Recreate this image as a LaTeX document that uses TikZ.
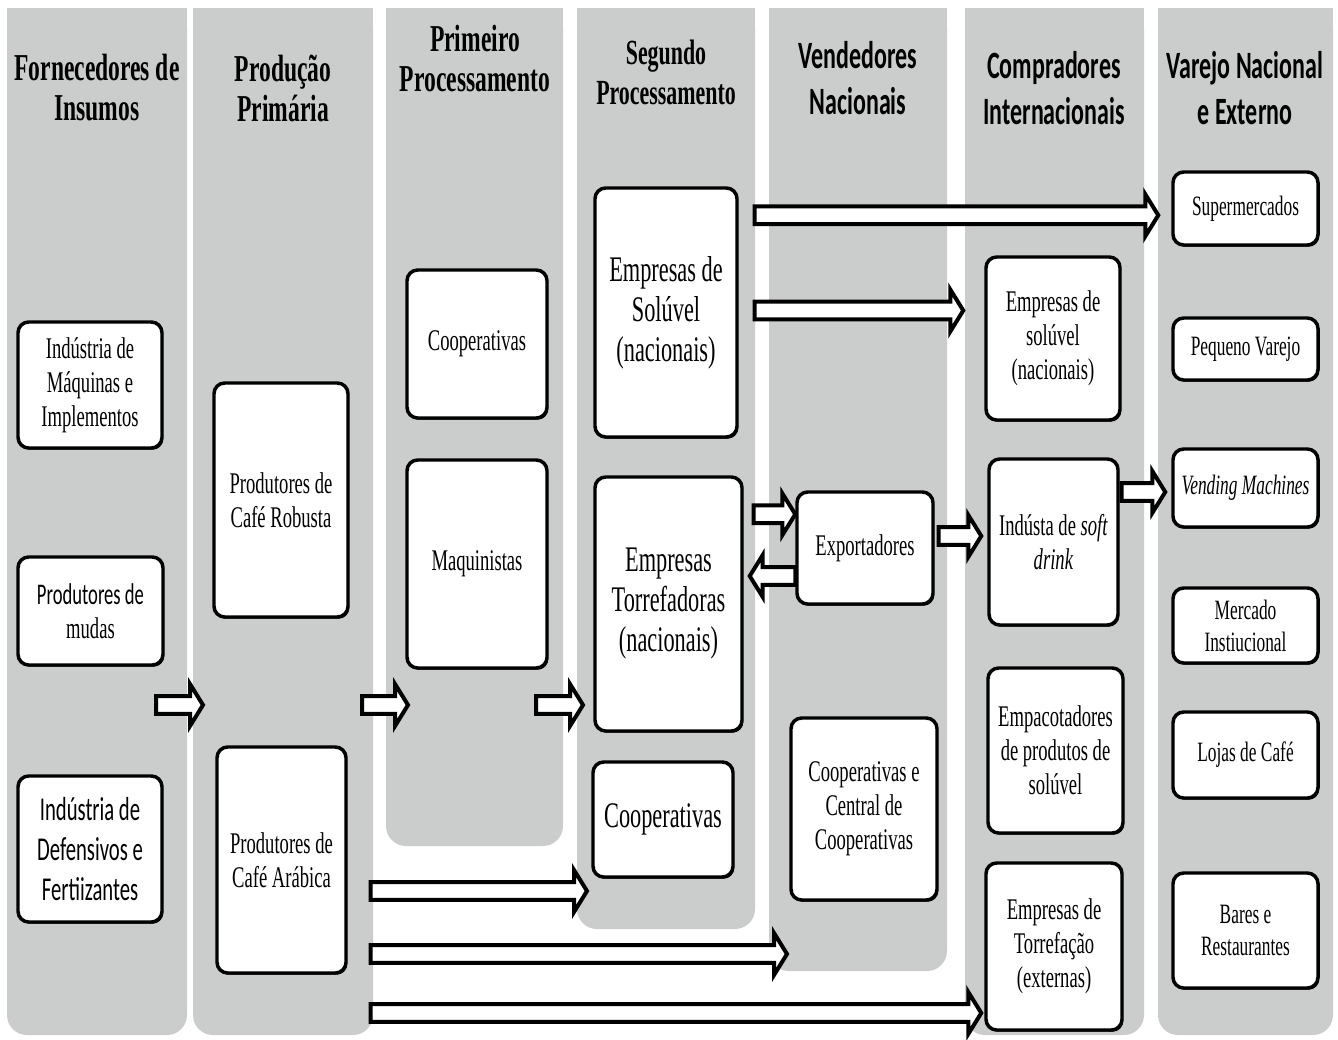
\documentclass[tikz,border=0pt]{standalone}
\usepackage{fontspec}
\setmainfont{Liberation Serif}
\newfontfamily\cserif[FakeStretch=0.62]{Liberation Serif}
\newfontfamily\csans[FakeStretch=0.62]{Carlito}
\usetikzlibrary{calc,shadows}
\definecolor{colgray}{RGB}{203,204,204}
\def\ash{6.6pt}
\def\ahh{15.75pt}
\def\ahl{9.75pt}
\tikzset{
  colbg/.style={fill=colgray},
  bx/.style={draw=black, line width=2.6pt, rounded corners=8pt, fill=white,
    align=center, inner sep=0pt,
    font=\cserif\fontsize{22.5}{25.5}\selectfont,
    drop shadow={shadow xshift=0.9pt, shadow yshift=-1.3pt, fill=black, opacity=1}},
  bigtxt/.style={font=\cserif\fontsize{27}{30}\selectfont},
  smalltxt/.style={font=\cserif\fontsize{21}{24}\selectfont},
  sanstxt/.style={font=\csans\fontsize{25}{30}\selectfont},
  hser/.style={align=center, inner sep=0pt, font=\cserif\bfseries\fontsize{28.5}{30}\selectfont},
  hsan/.style={align=center, inner sep=0pt, font=\csans\bfseries\fontsize{29}{34}\selectfont},
  barr/.style={draw=black, fill=white, line width=3pt, miter limit=10}
}
\newcommand\colbg[3]{%
  \fill[colbg, rounded corners=15pt] (#1,8) rectangle (#2,#3);
  \fill[colbg] (#1,8) rectangle (#2,#3-40);}
\newcommand\bx[7][]{%
  \node[bx,#1,minimum width={(#4-#2)*0.75pt},minimum height={(#5-#3)*0.75pt}]
    (#6) at ({(#2+#4)/2},{(#3+#5)/2}) {#7};}
\newcommand\barrow[2]{%
  \draw[barr] let \p1=#1, \p2=#2, \n1={((\x2>\x1)*2-1)*\ahl} in
    (\x1,{\y1+\ash}) -- ({\x2-(\n1)},{\y1+\ash}) -- ({\x2-(\n1)},{\y1+\ahh})
    -- (\x2,\y1) -- ({\x2-(\n1)},{\y1-\ahh}) -- ({\x2-(\n1)},{\y1-\ash})
    -- (\x1,{\y1-\ash}) -- cycle;}
\begin{document}
\begin{tikzpicture}[x=0.75pt,y=-0.75pt]
\useasboundingbox (0,0) rectangle (1338,1039);
\fill[white] (0,0) rectangle (1338,1039);
% columns
\colbg{7}{187}{1035}
\colbg{193}{373}{1035}
\colbg{386}{563}{846}
\colbg{577}{755}{929}
\colbg{769}{947}{971}
\colbg{965}{1144}{1035}
\colbg{1158}{1333}{1035}
% headings
\node[hser] (h1) at (97,88) {Fornecedores de\\Insumos};
\node[hser] (h2) at (283,88) {Produção\\Primária};
\node[hser] (h3) at (475,59) {Primeiro\\Processamento};
\node[hser, font=\cserif\bfseries\fontsize{26.5}{30}\selectfont] (h4) at (666,72) {Segundo\\Processamento};
\node[hsan] (h5) at (858,78) {Vendedores\\Nacionais};
\node[hsan] (h6) at (1054,88) {Compradores\\Internacionais};
\node[hsan] (h7) at (1245,88) {Varejo Nacional\\e Externo};
% column 1
\bx{18}{322}{162}{448}{maq}{Indústria de\\Máquinas e\\Implementos}
\bx{18}{557}{163}{665}{mud}{{\csans Produtores de}\\mudas}
\bx[sanstxt]{18}{776}{162}{922}{def}{Indústria de\\Defensivos e\\Fertiizantes}
% column 2
\bx{214}{383}{348}{617}{rob}{Produtores de\\Café Robusta}
\bx{217}{747}{346}{973}{arab}{Produtores de\\Café Arábica}
% column 3
\bx{407}{270}{547}{418}{coop1}{Cooperativas}
\bx{407}{460}{547}{668}{maqn}{Maquinistas}
% column 4
\bx[bigtxt]{595}{188}{737}{437}{sol}{Empresas de\\Solúvel\\(nacionais)}
\bx[bigtxt]{595}{477}{742}{731}{torr}{Empresas\\Torrefadoras\\(nacionais)}
\bx[bigtxt]{593}{762}{733}{877}{coop2}{Cooperativas}
% column 5
\bx{797}{492}{933}{604}{exp}{Exportadores}
\bx{791}{718}{937}{900}{coopc}{Cooperativas e\\Central de\\Cooperativas}
% column 6
\bx{986}{257}{1120}{420}{sol2}{Empresas de\\solúvel\\(nacionais)}
\bx{989}{459}{1118}{625}{soft}{Indústa de \textit{soft}\\\textit{drink}}
\bx{988}{668}{1123}{833}{emp}{Empacotadores\\de produtos de\\solúvel}
\bx{986}{863}{1122}{1030}{ext}{Empresas de\\Torrefação\\(externas)}
% column 7
\bx[smalltxt]{1173}{172}{1318}{245}{sup}{Supermercados}
\bx[smalltxt]{1173}{318}{1318}{380}{peq}{Pequeno Varejo}
\bx[smalltxt]{1173}{449}{1318}{527}{vend}{\textit{Vending Machines}}
\bx[smalltxt]{1173}{588}{1318}{663}{merc}{Mercado\\Instiucional}
\bx[smalltxt]{1173}{712}{1318}{798}{loj}{Lojas de Café}
\bx[smalltxt]{1173}{873}{1318}{988}{bar}{Bares e\\Restaurantes}
% free arrow ends
\coordinate (s1) at (156,705);
\coordinate (e1) at (203,705);
\coordinate (s2) at (362,705);
\coordinate (e2) at (408,705);
\coordinate (s3) at (536,705);
\coordinate (e3) at (583,705);
\coordinate (e4) at (587,891);
\coordinate (e5) at (787,954);
% arrows
\barrow{(s1)}{(e1)}
\barrow{(s2)}{(e2)}
\barrow{(s3)}{(e3)}
\barrow{([shift={(23,31)}]arab.east)}{(e4)}
\barrow{([shift={(23,94)}]arab.east)}{(e5)}
\barrow{([shift={(23,153)}]arab.east)}{([shift={(-3,0)}]ext.west)}
\barrow{([shift={(16,29)}]sol.north east)}{([shift={(-13,0)}]sup.west)}
\barrow{([shift={(16,-2)}]sol.east)}{([shift={(-21,0)}]sol2.west)}
\barrow{([shift={(10,39)}]torr.north east)}{(exp.west)}
\barrow{([shift={(0,28)}]exp.west)}{([shift={(6,0)}]torr.east)}
\barrow{([shift={(4,-12)}]exp.east)}{([shift={(-6,0)}]soft.west)}
\barrow{([shift={(2,-50)}]soft.east)}{([shift={(-6,0)}]vend.west)}
\end{tikzpicture}
\end{document}
